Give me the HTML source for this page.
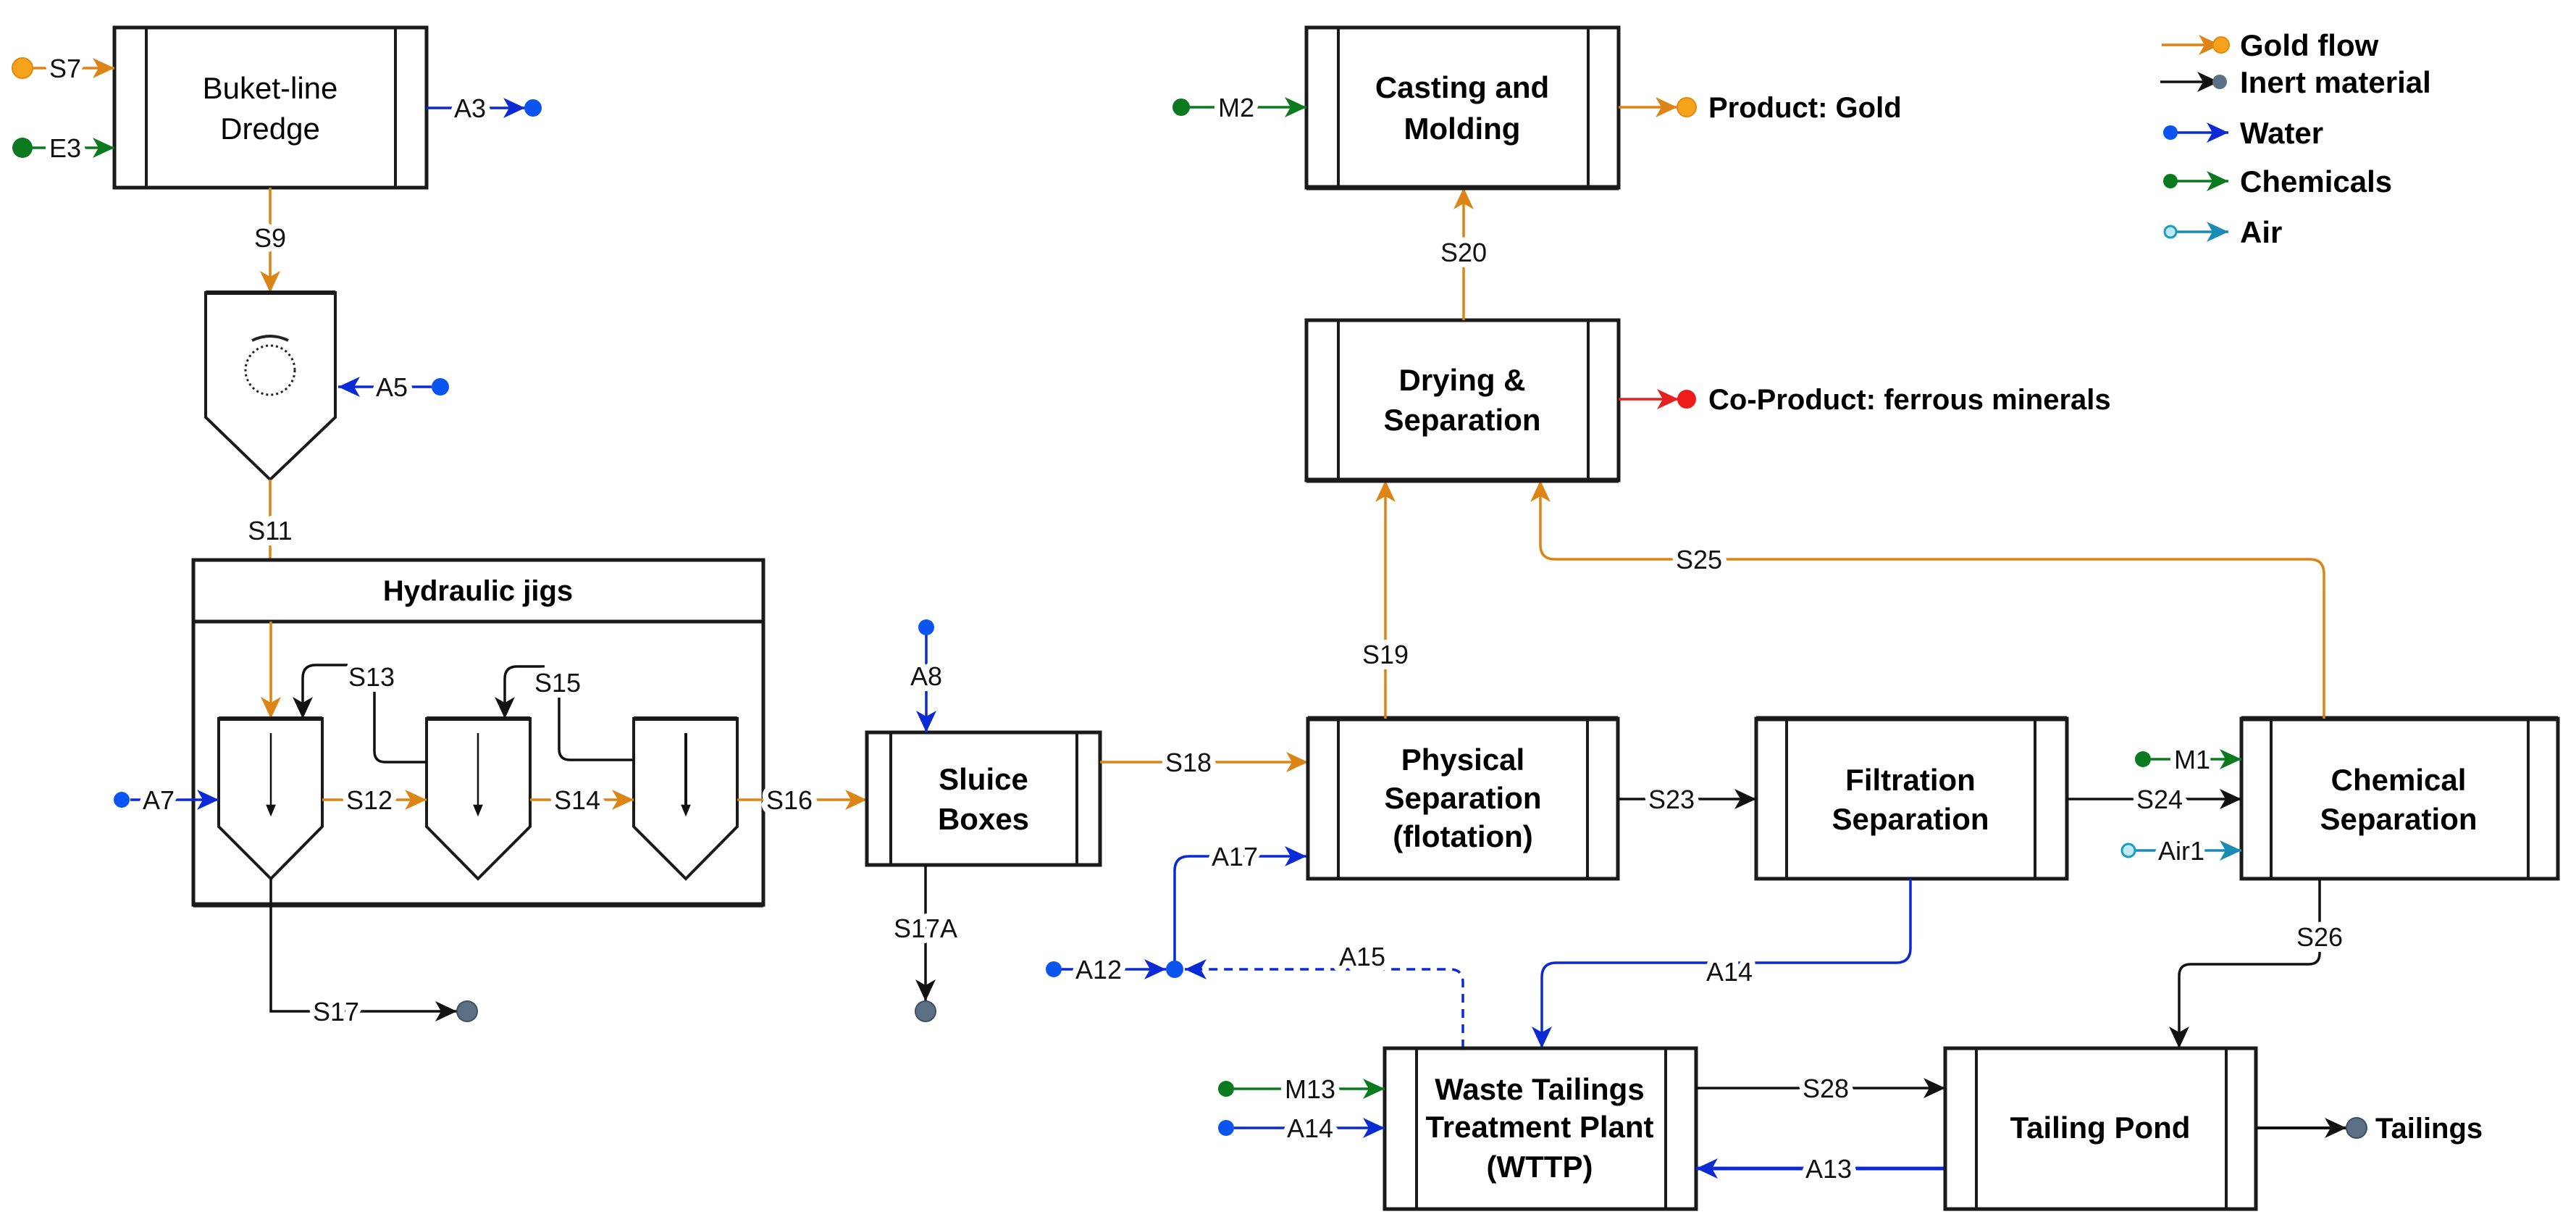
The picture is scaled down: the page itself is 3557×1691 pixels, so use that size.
<!DOCTYPE html>
<html><head><meta charset="utf-8">
<style>
html,body{margin:0;padding:0;background:#fff;}
svg{display:block;}
text{font-family:"Liberation Sans",Arial,sans-serif;}
.lb{font-size:36px;fill:#111;stroke:#fff;stroke-width:16px;paint-order:stroke;stroke-linejoin:round;}
.bx{font-size:42px;font-weight:bold;fill:#000;}
.box{fill:#fff;stroke:#1a1a1a;stroke-width:5;}
.bar{stroke:#1a1a1a;stroke-width:4;}
.o{stroke:#dc8416;stroke-width:3.5;fill:none;}
.k{stroke:#111;stroke-width:3.5;fill:none;}
.b{stroke:#0a2ad6;stroke-width:3.5;fill:none;}
.g{stroke:#0b7a1e;stroke-width:3.5;fill:none;}
.t{stroke:#1a8cb3;stroke-width:3.5;fill:none;}
.r{stroke:#e52020;stroke-width:3.5;fill:none;}
</style></head>
<body>
<svg width="3557" height="1691" viewBox="0 0 3557 1691" xmlns="http://www.w3.org/2000/svg">
<defs>
<marker id="ao" markerUnits="userSpaceOnUse" markerWidth="34" markerHeight="30" refX="30" refY="14" orient="auto"><path d="M0,0 L30,14 L0,28 L8,14 z" fill="#dc8416"/></marker>
<marker id="ak" markerUnits="userSpaceOnUse" markerWidth="34" markerHeight="30" refX="30" refY="14" orient="auto"><path d="M0,0 L30,14 L0,28 L8,14 z" fill="#111"/></marker>
<marker id="ab" markerUnits="userSpaceOnUse" markerWidth="34" markerHeight="30" refX="30" refY="14" orient="auto"><path d="M0,0 L30,14 L0,28 L8,14 z" fill="#0a2ad6"/></marker>
<marker id="ag" markerUnits="userSpaceOnUse" markerWidth="34" markerHeight="30" refX="30" refY="14" orient="auto"><path d="M0,0 L30,14 L0,28 L8,14 z" fill="#0b7a1e"/></marker>
<marker id="at" markerUnits="userSpaceOnUse" markerWidth="34" markerHeight="30" refX="30" refY="14" orient="auto"><path d="M0,0 L30,14 L0,28 L8,14 z" fill="#1a8cb3"/></marker>
<marker id="ar" markerUnits="userSpaceOnUse" markerWidth="34" markerHeight="30" refX="30" refY="14" orient="auto"><path d="M0,0 L30,14 L0,28 L8,14 z" fill="#e52020"/></marker>
</defs>

<!-- Dredge -->
<rect class="box" x="158" y="38" width="431" height="221"/>
<line class="bar" x1="202" y1="38" x2="202" y2="259"/><line class="bar" x1="546" y1="38" x2="546" y2="259"/>
<text x="373" y="136" text-anchor="middle" style="font-size:42px">Buket-line</text>
<text x="373" y="192" text-anchor="middle" style="font-size:42px">Dredge</text>
<line class="o" x1="45" y1="94" x2="158" y2="94" marker-end="url(#ao)"/>
<circle cx="31" cy="94" r="14" fill="#f7a21b" stroke="#e08a10" stroke-width="2"/>
<text class="lb" x="90" y="107" text-anchor="middle">S7</text>
<line class="g" x1="45" y1="204" x2="158" y2="204" marker-end="url(#ag)"/>
<circle cx="31" cy="204" r="14" fill="#0b7a1e"/>
<text class="lb" x="90" y="217" text-anchor="middle">E3</text>
<line class="b" x1="589" y1="149" x2="725" y2="149" marker-end="url(#ab)"/>
<circle cx="736" cy="149" r="12" fill="#0a55f0"/>
<text class="lb" x="649" y="162" text-anchor="middle">A3</text>

<!-- S9 -->
<line class="o" x1="373" y1="259" x2="373" y2="404" marker-end="url(#ao)"/>
<text class="lb" x="373" y="341" text-anchor="middle">S9</text>
<!-- hopper -->
<path d="M284,404 L463,404 L463,576 L373,662 L284,576 Z" fill="#fff" stroke="#1a1a1a" stroke-width="4"/>
<line x1="284" y1="404" x2="463" y2="404" stroke="#1a1a1a" stroke-width="6"/>
<circle cx="373" cy="511" r="34" fill="none" stroke="#222" stroke-width="3" stroke-dasharray="3,4"/>
<path d="M348,470 Q373,458 398,470" fill="none" stroke="#222" stroke-width="4"/>
<line class="b" x1="596" y1="534" x2="467" y2="534" marker-end="url(#ab)"/>
<circle cx="608" cy="534" r="12" fill="#0a55f0"/>
<text class="lb" x="541" y="547" text-anchor="middle">A5</text>
<line class="o" x1="373" y1="662" x2="373" y2="773"/>
<text class="lb" x="373" y="745" text-anchor="middle">S11</text>

<!-- Hydraulic jigs -->
<rect class="box" x="267" y="773" width="787" height="476"/>
<line x1="267" y1="858" x2="1054" y2="858" stroke="#1a1a1a" stroke-width="5"/>
<line x1="267" y1="1249" x2="1054" y2="1249" stroke="#1a1a1a" stroke-width="7"/>
<text class="bx" x="660" y="829" text-anchor="middle" style="font-size:40px">Hydraulic jigs</text>
<line class="o" x1="374" y1="858" x2="374" y2="992" marker-end="url(#ao)"/>
<g fill="#fff" stroke="#1a1a1a" stroke-width="4">
<path d="M302,992 L445,992 L445,1141 L374,1213 L302,1141 Z"/>
<path d="M589,992 L732,992 L732,1141 L660,1213 L589,1141 Z"/>
<path d="M875,992 L1018,992 L1018,1141 L947,1213 L875,1141 Z"/>
</g>
<g stroke="#1a1a1a" stroke-width="6"><line x1="302" y1="992" x2="445" y2="992"/><line x1="589" y1="992" x2="732" y2="992"/><line x1="875" y1="992" x2="1018" y2="992"/></g>
<g stroke="#111" stroke-width="2.5">
<line x1="374" y1="1012" x2="374" y2="1118"/><path d="M369,1112 L374,1124 L379,1112 Z" fill="#111"/>
<line x1="660" y1="1012" x2="660" y2="1118"/><path d="M655,1112 L660,1124 L665,1112 Z" fill="#111"/>
<line x1="947" y1="1012" x2="947" y2="1118" stroke-width="4"/><path d="M942,1112 L947,1124 L952,1112 Z" fill="#111"/>
</g>
<path class="k" d="M589,1052 L532,1052 Q517,1052 517,1037 L517,950"/>
<path class="k" d="M480,918 L436,918 Q418,918 418,936 L418,992" marker-end="url(#ak)"/>
<text class="lb" x="513" y="947" text-anchor="middle">S13</text>
<path class="k" d="M875,1049 L787,1049 Q772,1049 772,1034 L772,960"/>
<path class="k" d="M752,920 L714,920 Q697,920 697,937 L697,992" marker-end="url(#ak)"/>
<text class="lb" x="770" y="955" text-anchor="middle">S15</text>
<line class="b" x1="180" y1="1104" x2="302" y2="1104" marker-end="url(#ab)"/>
<circle cx="168" cy="1104" r="11" fill="#0a55f0"/>
<text class="lb" x="219" y="1117" text-anchor="middle">A7</text>
<line class="o" x1="445" y1="1104" x2="589" y2="1104" marker-end="url(#ao)"/>
<text class="lb" x="510" y="1117" text-anchor="middle">S12</text>
<line class="o" x1="732" y1="1104" x2="875" y2="1104" marker-end="url(#ao)"/>
<text class="lb" x="797" y="1117" text-anchor="middle">S14</text>
<line class="o" x1="1018" y1="1104" x2="1197" y2="1104" marker-end="url(#ao)"/>
<text class="lb" x="1090" y="1117" text-anchor="middle">S16</text>
<path class="k" d="M374,1213 L374,1396 L631,1396" marker-end="url(#ak)"/>
<circle cx="645" cy="1396" r="14" fill="#5b7084" stroke="#3e5060" stroke-width="2"/>
<text class="lb" x="464" y="1409" text-anchor="middle">S17</text>

<!-- Sluice -->
<rect class="box" x="1197" y="1011" width="322" height="183"/>
<line class="bar" x1="1230" y1="1011" x2="1230" y2="1194"/><line class="bar" x1="1487" y1="1011" x2="1487" y2="1194"/>
<text class="bx" x="1358" y="1090" text-anchor="middle">Sluice</text>
<text class="bx" x="1358" y="1145" text-anchor="middle">Boxes</text>
<line class="b" x1="1279" y1="870" x2="1279" y2="1011" marker-end="url(#ab)"/>
<circle cx="1279" cy="866" r="11" fill="#0a55f0"/>
<text class="lb" x="1279" y="946" text-anchor="middle">A8</text>
<line class="k" x1="1278" y1="1194" x2="1278" y2="1382" marker-end="url(#ak)"/>
<circle cx="1278" cy="1396" r="14" fill="#5b7084" stroke="#3e5060" stroke-width="2"/>
<text class="lb" x="1278" y="1294" text-anchor="middle">S17A</text>
<line class="o" x1="1519" y1="1052" x2="1806" y2="1052" marker-end="url(#ao)"/>
<text class="lb" x="1641" y="1065" text-anchor="middle">S18</text>

<!-- Physical -->
<rect class="box" x="1806" y="992" width="428" height="221"/>
<line x1="1806" y1="992" x2="2234" y2="992" stroke="#1a1a1a" stroke-width="7"/>
<line class="bar" x1="1848" y1="992" x2="1848" y2="1213"/><line class="bar" x1="2192" y1="992" x2="2192" y2="1213"/>
<text class="bx" x="2020" y="1063" text-anchor="middle">Physical</text>
<text class="bx" x="2020" y="1116" text-anchor="middle">Separation</text>
<text class="bx" x="2020" y="1169" text-anchor="middle">(flotation)</text>
<line class="o" x1="1913" y1="992" x2="1913" y2="663" marker-end="url(#ao)"/>
<text class="lb" x="1913" y="916" text-anchor="middle">S19</text>

<!-- Filtration -->
<rect class="box" x="2425" y="992" width="429" height="221"/>
<line x1="2425" y1="992" x2="2854" y2="992" stroke="#1a1a1a" stroke-width="7"/>
<line class="bar" x1="2467" y1="992" x2="2467" y2="1213"/><line class="bar" x1="2810" y1="992" x2="2810" y2="1213"/>
<text class="bx" x="2638" y="1091" text-anchor="middle">Filtration</text>
<text class="bx" x="2638" y="1145" text-anchor="middle">Separation</text>
<line class="k" x1="2234" y1="1103" x2="2425" y2="1103" marker-end="url(#ak)"/>
<text class="lb" x="2308" y="1116" text-anchor="middle">S23</text>

<!-- Chemical -->
<rect class="box" x="3095" y="992" width="437" height="221"/>
<line x1="3095" y1="992" x2="3532" y2="992" stroke="#1a1a1a" stroke-width="7"/>
<line class="bar" x1="3136" y1="992" x2="3136" y2="1213"/><line class="bar" x1="3491" y1="992" x2="3491" y2="1213"/>
<text class="bx" x="3312" y="1091" text-anchor="middle">Chemical</text>
<text class="bx" x="3312" y="1145" text-anchor="middle">Separation</text>
<line class="k" x1="2854" y1="1103" x2="3095" y2="1103" marker-end="url(#ak)"/>
<text class="lb" x="2982" y="1116" text-anchor="middle">S24</text>
<line class="g" x1="2970" y1="1048" x2="3095" y2="1048" marker-end="url(#ag)"/>
<circle cx="2959" cy="1048" r="11" fill="#0b7a1e"/>
<text class="lb" x="3027" y="1061" text-anchor="middle">M1</text>
<line class="t" x1="2948" y1="1174" x2="3095" y2="1174" marker-end="url(#at)"/>
<circle cx="2939" cy="1174" r="9" fill="#bfe9f5" stroke="#1a9cc0" stroke-width="3"/>
<text class="lb" x="3012" y="1187" text-anchor="middle">Air1</text>
<path class="o" d="M3209,992 L3209,792 Q3209,772 3189,772 L2147,772 Q2127,772 2127,752 L2127,663" marker-end="url(#ao)"/>
<text class="lb" x="2346" y="785" text-anchor="middle">S25</text>
<path class="k" d="M3203,1213 L3203,1316 Q3203,1331 3188,1331 L3025,1331 Q3009,1331 3009,1347 L3009,1447" marker-end="url(#ak)"/>
<text class="lb" x="3203" y="1306" text-anchor="middle">S26</text>

<!-- Drying -->
<rect class="box" x="1804" y="442" width="431" height="221"/>
<line x1="1804" y1="663" x2="2235" y2="663" stroke="#1a1a1a" stroke-width="7"/>
<line class="bar" x1="1848" y1="442" x2="1848" y2="663"/><line class="bar" x1="2193" y1="442" x2="2193" y2="663"/>
<text class="bx" x="2019" y="539" text-anchor="middle">Drying &amp;</text>
<text class="bx" x="2019" y="594" text-anchor="middle">Separation</text>
<line class="r" x1="2235" y1="551" x2="2318" y2="551" marker-end="url(#ar)"/>
<circle cx="2329" cy="551" r="13" fill="#ee1c1c"/>
<text class="bx" x="2359" y="565" style="font-size:40px">Co-Product: ferrous minerals</text>
<line class="o" x1="2021" y1="442" x2="2021" y2="259" marker-end="url(#ao)"/>
<text class="lb" x="2021" y="361" text-anchor="middle">S20</text>

<!-- Casting -->
<rect class="box" x="1804" y="38" width="431" height="221"/>
<line x1="1804" y1="259" x2="2235" y2="259" stroke="#1a1a1a" stroke-width="7"/>
<line class="bar" x1="1848" y1="38" x2="1848" y2="259"/><line class="bar" x1="2193" y1="38" x2="2193" y2="259"/>
<text class="bx" x="2019" y="135" text-anchor="middle">Casting and</text>
<text class="bx" x="2019" y="192" text-anchor="middle">Molding</text>
<line class="g" x1="1642" y1="148" x2="1804" y2="148" marker-end="url(#ag)"/>
<circle cx="1631" cy="148" r="12" fill="#0b7a1e"/>
<text class="lb" x="1707" y="161" text-anchor="middle">M2</text>
<line class="o" x1="2235" y1="148" x2="2316" y2="148" marker-end="url(#ao)"/>
<circle cx="2329" cy="148" r="13" fill="#f7a21b" stroke="#e08a10" stroke-width="2"/>
<text class="bx" x="2359" y="162" style="font-size:40px">Product: Gold</text>

<!-- Legend -->
<g style="font-size:42px;font-weight:bold">
<line class="o" x1="2985" y1="62" x2="3066" y2="62" marker-end="url(#ao)"/><circle cx="3067" cy="62" r="11" fill="#f7a21b" stroke="#e08a10" stroke-width="2"/>
<text x="3093" y="77">Gold flow</text>
<line class="k" x1="2983" y1="113" x2="3064" y2="113" marker-end="url(#ak)"/><circle cx="3065" cy="113" r="10" fill="#5b7084"/>
<text x="3093" y="128">Inert material</text>
<line class="b" x1="2997" y1="183" x2="3077" y2="183" marker-end="url(#ab)"/><circle cx="2997" cy="183" r="10" fill="#0a55f0"/>
<text x="3093" y="198">Water</text>
<line class="g" x1="2997" y1="250" x2="3077" y2="250" marker-end="url(#ag)"/><circle cx="2997" cy="250" r="10" fill="#0b7a1e"/>
<text x="3093" y="265">Chemicals</text>
<line class="t" x1="3003" y1="320" x2="3077" y2="320" marker-end="url(#at)"/><circle cx="2997" cy="320" r="8" fill="#bfe9f5" stroke="#1a9cc0" stroke-width="3"/>
<text x="3093" y="335">Air</text>
</g>

<!-- A12/A17/A15 -->
<line class="b" x1="1465" y1="1338" x2="1610" y2="1338" marker-end="url(#ab)"/>
<circle cx="1455" cy="1338" r="11" fill="#0a55f0"/>
<text class="lb" x="1517" y="1351" text-anchor="middle">A12</text>
<path class="b" d="M1622,1338 L1622,1202 Q1622,1182 1642,1182 L1804,1182" marker-end="url(#ab)"/>
<text class="lb" x="1705" y="1195" text-anchor="middle">A17</text>
<path class="b" d="M2020,1447 L2020,1356 Q2020,1338 2002,1338 L1636,1338" stroke-dasharray="12,9" marker-end="url(#ab)"/>
<circle cx="1622" cy="1338" r="12" fill="#0a55f0"/>
<text class="lb" x="1881" y="1333" text-anchor="middle">A15</text>
<path class="b" d="M2638,1213 L2638,1309 Q2638,1329 2618,1329 L2149,1329 Q2129,1329 2129,1349 L2129,1447" marker-end="url(#ab)"/>
<text class="lb" x="2388" y="1354" text-anchor="middle">A14</text>

<!-- WTTP -->
<rect class="box" x="1912" y="1447" width="430" height="222"/>
<line class="bar" x1="1956" y1="1447" x2="1956" y2="1669"/><line class="bar" x1="2300" y1="1447" x2="2300" y2="1669"/>
<text class="bx" x="2126" y="1518" text-anchor="middle">Waste Tailings</text>
<text class="bx" x="2126" y="1570" text-anchor="middle">Treatment Plant</text>
<text class="bx" x="2126" y="1625" text-anchor="middle">(WTTP)</text>
<line class="g" x1="1704" y1="1503" x2="1912" y2="1503" marker-end="url(#ag)"/>
<circle cx="1693" cy="1503" r="11" fill="#0b7a1e"/>
<text class="lb" x="1809" y="1516" text-anchor="middle">M13</text>
<line class="b" x1="1704" y1="1557" x2="1912" y2="1557" marker-end="url(#ab)"/>
<circle cx="1693" cy="1557" r="11" fill="#0a55f0"/>
<text class="lb" x="1809" y="1570" text-anchor="middle">A14</text>
<line class="k" x1="2342" y1="1502" x2="2686" y2="1502" marker-end="url(#ak)"/>
<text class="lb" x="2521" y="1515" text-anchor="middle">S28</text>
<line x1="2686" y1="1613" x2="2342" y2="1613" stroke="#0a2ad6" stroke-width="5" marker-end="url(#ab)"/>
<text class="lb" x="2525" y="1626" text-anchor="middle">A13</text>

<!-- Pond -->
<rect class="box" x="2686" y="1447" width="429" height="222"/>
<line class="bar" x1="2729" y1="1447" x2="2729" y2="1669"/><line class="bar" x1="3074" y1="1447" x2="3074" y2="1669"/>
<text class="bx" x="2900" y="1571" text-anchor="middle">Tailing Pond</text>
<line x1="3115" y1="1557" x2="3240" y2="1557" stroke="#111" stroke-width="4" marker-end="url(#ak)"/>
<circle cx="3254" cy="1557" r="14" fill="#5b7084" stroke="#3e5060" stroke-width="2"/>
<text class="bx" x="3280" y="1571" style="font-size:40px">Tailings</text>
</svg>
</body></html>
